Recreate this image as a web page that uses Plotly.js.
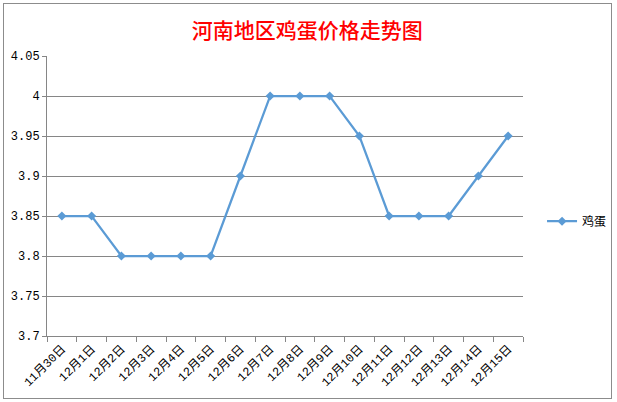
<!DOCTYPE html>
<html>
<head>
<meta charset="utf-8">
<script src="https://cdn.plot.ly/plotly-3.0.1.min.js"></script>
<style>
html,body{margin:0;padding:0;background:#fff;}
#wrap{position:relative;width:617px;height:402px;overflow:hidden;}
#chart{position:absolute;left:0;top:0;width:617px;height:402px;}
#frame{position:absolute;left:3px;top:3px;width:607px;height:394px;border:1px solid #8c8c8c;pointer-events:none;}
</style>
</head>
<body>
<div id="wrap">
<div id="chart"></div>
<div id="frame"></div>
</div>
<script>
const categories = ["11月30日","12月1日","12月2日","12月3日","12月4日","12月5日","12月6日","12月7日","12月8日","12月9日","12月10日","12月11日","12月12日","12月13日","12月14日","12月15日"];
const eggPrices = [3.85,3.85,3.8,3.8,3.8,3.8,3.9,4,4,4,3.95,3.85,3.85,3.85,3.9,3.95];
const seriesName = "鸡蛋";
const yTickVals = [3.7,3.75,3.8,3.85,3.9,3.95,4,4.05];
const yTickText = ["3.7","3.75","3.8","3.85","3.9","3.95","4","4.05"];
const titleText = "河南地区鸡蛋价格走势图";

const fontFam = "'Liberation Mono', 'Noto Sans CJK SC', monospace";

const trace = {
  x: categories,
  y: eggPrices,
  name: seriesName,
  type: "scatter",
  mode: "lines+markers",
  line: {color: "#5B9BD5", width: 2.25},
  marker: {symbol: "diamond", size: 7, color: "#5B9BD5"}
};

const layout = {
  width: 617,
  height: 402,
  margin: {l: 47, r: 94, t: 56, b: 66, autoexpand: false},
  paper_bgcolor: "rgba(0,0,0,0)",
  plot_bgcolor: "#fff",
  title: {
    text: titleText,
    font: {family: "'Noto Sans CJK SC', sans-serif", size: 21, color: "#FF0000", weight: 500},
    x: 0.498, xanchor: "center", xref: "container",
    y: 0.925, yanchor: "middle", yref: "container"
  },
  showlegend: true,
  legend: {
    x: 1.04, xanchor: "left", y: 0.41, yanchor: "middle",
    font: {family: "'Noto Sans CJK SC', sans-serif", size: 12, color: "#000"},
    bgcolor: "rgba(0,0,0,0)"
  },
  xaxis: {
    type: "category",
    tickson: "boundaries",
    ticks: "outside",
    ticklen: 5,
    tickcolor: "#868686",
    showline: true,
    linecolor: "#868686",
    linewidth: 1,
    showgrid: false,
    tickangle: -45,
    tickfont: {family: fontFam, size: 12, color: "#000"},
    range: [-0.5, 15.5],
    fixedrange: true
  },
  yaxis: {
    range: [3.7, 4.05],
    tickvals: yTickVals,
    ticktext: yTickText,
    ticks: "outside",
    ticklen: 4,
    tickcolor: "#868686",
    showline: true,
    linecolor: "#868686",
    linewidth: 1,
    showgrid: true,
    gridcolor: "#868686",
    gridwidth: 1,
    zeroline: false,
    tickfont: {family: fontFam, size: 12, color: "#000"},
    fixedrange: true
  }
};

Plotly.newPlot("chart", [trace], layout, {displayModeBar: false, staticPlot: true});
</script>
</body>
</html>
